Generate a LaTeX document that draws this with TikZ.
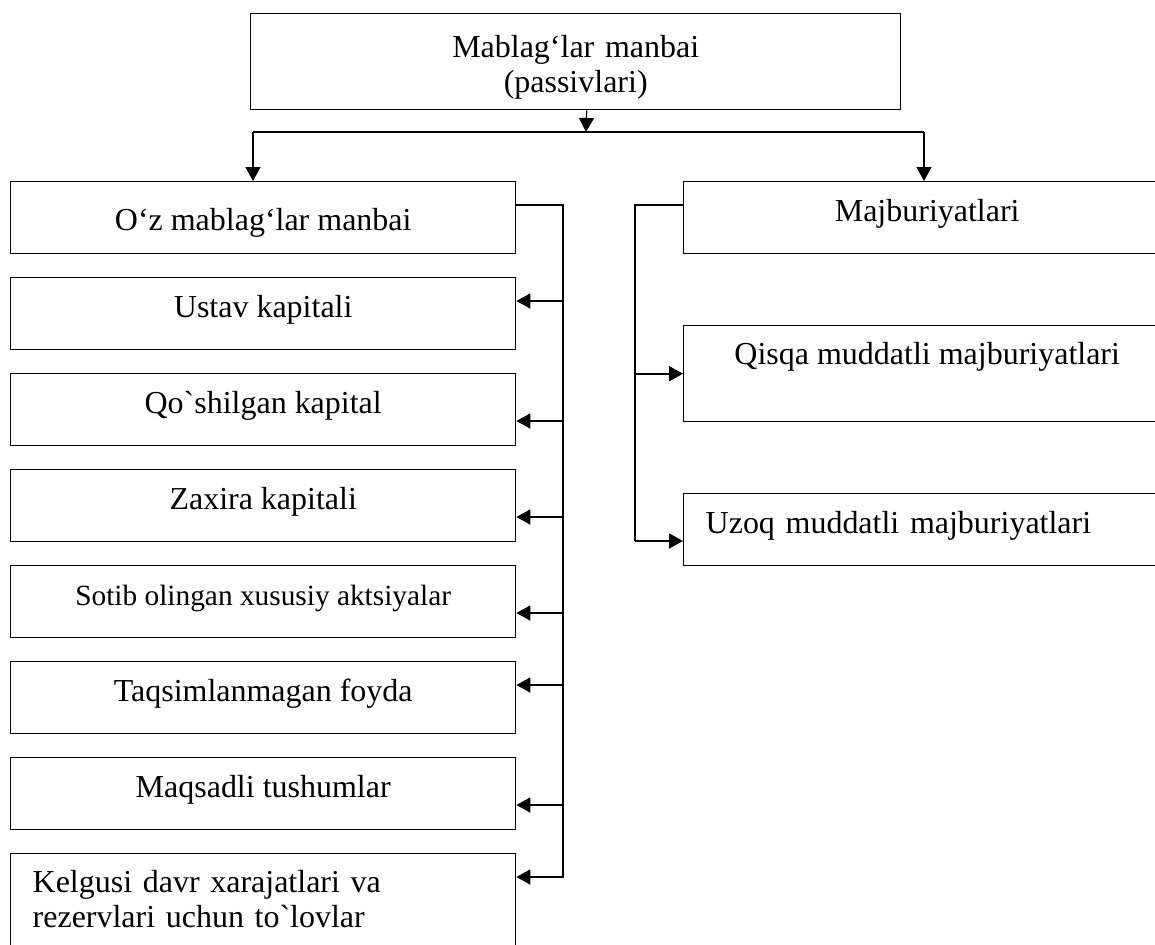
\documentclass[tikz,border=0pt]{standalone}
\usepackage{fontspec}
\setmainfont{Liberation Serif}[Ligatures=TeXOff]
\usetikzlibrary{arrows.meta,calc}

\tikzset{
  box/.style={draw, line width=.8pt, inner sep=0pt, anchor=north west,
    font=\fontsize{18.2}{20}\selectfont, text height=.8cm, text depth=.64cm},
  leftbox/.style={box, minimum width=10.1cm},
  rightbox/.style={box, minimum width=9.74cm},
  feed/.style={line width=1.1pt, -{Triangle[length=.28cm,width=.3cm]}},
  link/.style={line width=.7pt}
}

\begin{document}
\begin{tikzpicture}
\useasboundingbox (0,0) rectangle (23.1,-18.88);

\node[box, minimum width=13cm, text width=13cm, align=center, text height=.88cm, text depth=1.04cm] (top) at (5.0,-0.26) {Mablag‘lar manbai\\(passivlari)};

% own funds
\node[leftbox, text height=.98cm, text depth=.46cm] (own) at (0.2,-3.62) {O‘z mablag‘lar manbai};
\node[leftbox] (ustav) at (0.2,-5.54) {Ustav kapitali};
\node[leftbox] (qosh) at (0.2,-7.46) {Qo`shilgan kapital};
\node[leftbox] (zaxira) at (0.2,-9.38) {Zaxira kapitali};
\node[leftbox, font=\fontsize{16.7}{20}\selectfont] (sotib) at (0.2,-11.30) {Sotib olingan xususiy aktsiyalar};
\node[leftbox] (taqsim) at (0.2,-13.22) {Taqsimlanmagan foyda};
\node[leftbox] (maqsad) at (0.2,-15.14) {Maqsadli tushumlar};
\node[leftbox, text width=9.22cm, inner xsep=.44cm, align=left, text height=.78cm, text depth=1.22cm] (kelg) at (0.2,-17.06) {Kelgusi davr xarajatlari va\\rezervlari uchun to`lovlar};

% liabilities
\node[rightbox] (liab) at (13.66,-3.62) {Majburiyatlari};
\node[rightbox, text height=.78cm, text depth=1.14cm] (qisqa) at (13.66,-6.50) {Qisqa muddatli majburiyatlari};
\node[rightbox, text width=8.86cm, inner xsep=.44cm, align=left] (uzoq) at (13.66,-9.86) {Uzoq muddatli majburiyatlari};

\coordinate (bar) at (11.72,-2.64);
\coordinate (barL) at (5.06,-2.64);
\coordinate (barR) at (18.48,-2.64);
\draw[feed, line width=.7pt] ([xshift=.22cm]top.south) -- (bar);
\draw[link] (barL) -- (barR);
\draw[feed, line width=.8pt] (barL) -- (barL |- own.north);
\draw[feed, line width=.8pt] (barR) -- (barR |- liab.north);

\coordinate (busL) at (11.26,-4.10);
\draw[link] (own.east |- busL) -- (busL) -- ($(busL |- kelg.north)+(0,-.48)$);
\foreach \n/\d in {ustav/.48, qosh/.96, zaxira/.96, sotib/.96, taqsim/.48, maqsad/.96, kelg/.48}
  \draw[feed] ($(\n.north east)+(.96,-\d)$) -- ($(\n.north east)+(0,-\d)$);

\coordinate (busR) at (12.70,-4.10);
\draw[link] (liab.west |- busR) -- (busR) -- ($(busR |- uzoq.north)+(0,-.96)$);
\draw[feed] (busR |- qisqa.west) -- (qisqa.west);
\draw[feed] ($(busR |- uzoq.north)+(0,-.96)$) -- ($(uzoq.north west)+(0,-.96)$);
\end{tikzpicture}
\end{document}
